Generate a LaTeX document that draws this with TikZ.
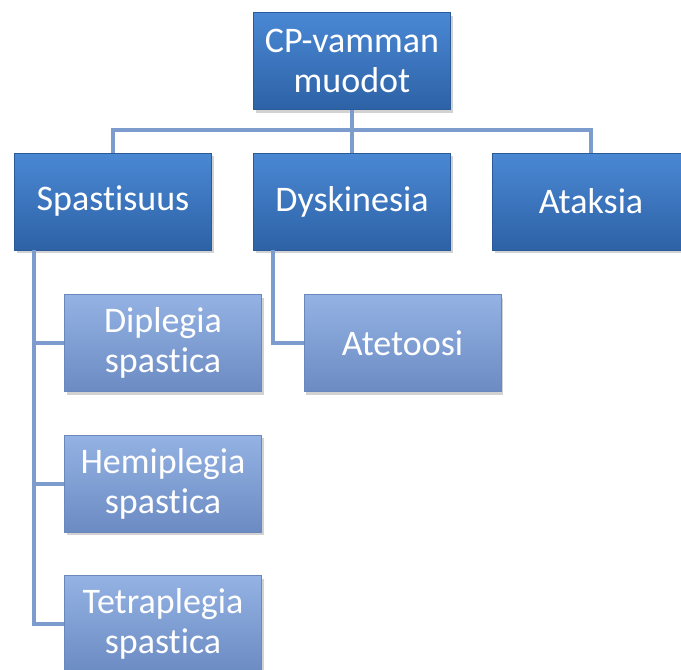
\documentclass[tikz,border=0pt]{standalone}
\usepackage{fontspec}
\setmainfont{Carlito}[Ligatures=CommonOff]
\usetikzlibrary{shadows}
\definecolor{topA}{HTML}{4A88D4}
\definecolor{topB}{HTML}{2D62A6}
\definecolor{topE}{HTML}{2A5A98}
\definecolor{subA}{HTML}{94B2E3}
\definecolor{subB}{HTML}{6B8BC3}
\definecolor{subE}{HTML}{6A88BC}
\definecolor{lineC}{HTML}{7C9CCE}
\tikzset{
  base/.style={rectangle, draw, line width=0.8pt, text=white, align=center,
    font=\fontsize{36}{40}\selectfont, inner sep=2pt,
    drop shadow={shadow xshift=2pt, shadow yshift=-3pt, opacity=0.35}},
  mainbox/.style={base, draw=topE, top color=topA, bottom color=topB,
    minimum width=197pt, minimum height=97pt},
  subbox/.style={base, draw=subE, top color=subA, bottom color=subB,
    minimum width=197pt, minimum height=97pt},
  conn/.style={draw=lineC, line width=4pt}
}
\begin{document}
\begin{tikzpicture}[x=1pt,y=-1pt]
\useasboundingbox (0,0) rectangle (681,670);
\clip (0,0) rectangle (681,670);
\fill[white] (0,0) rectangle (681,670);
\node[mainbox] (top) at (352,61) {CP-vamman\\muodot};
\node[mainbox] (spas) at (113,201.5) {Spastisuus};
\node[mainbox] (dysk) at (352,201.5) {Dyskinesia};
\node[mainbox] (atak) at (591,201.5) {Ataksia};
\node[subbox] (dip) at (163,343) {Diplegia\\spastica};
\node[subbox] (hemi) at (163,483.5) {Hemiplegia\\spastica};
\node[subbox] (tetra) at (163,624) {Tetraplegia\\spastica};
\node[subbox] (atet) at (402.5,343) {Atetoosi};
\coordinate (bus) at (352,130);
\coordinate (spdown) at (34,250);
\coordinate (dydown) at (273,250);
\draw[conn] (top.south) -- (bus);
\draw[conn] (spas.north) |- (bus) -| (atak.north);
\draw[conn] (bus) -- (dysk.north);
\draw[conn] (spdown) |- (tetra.west);
\draw[conn] (spdown) |- (dip.west);
\draw[conn] (spdown) |- (hemi.west);
\draw[conn] (dydown) |- (atet.west);
\end{tikzpicture}
\end{document}
